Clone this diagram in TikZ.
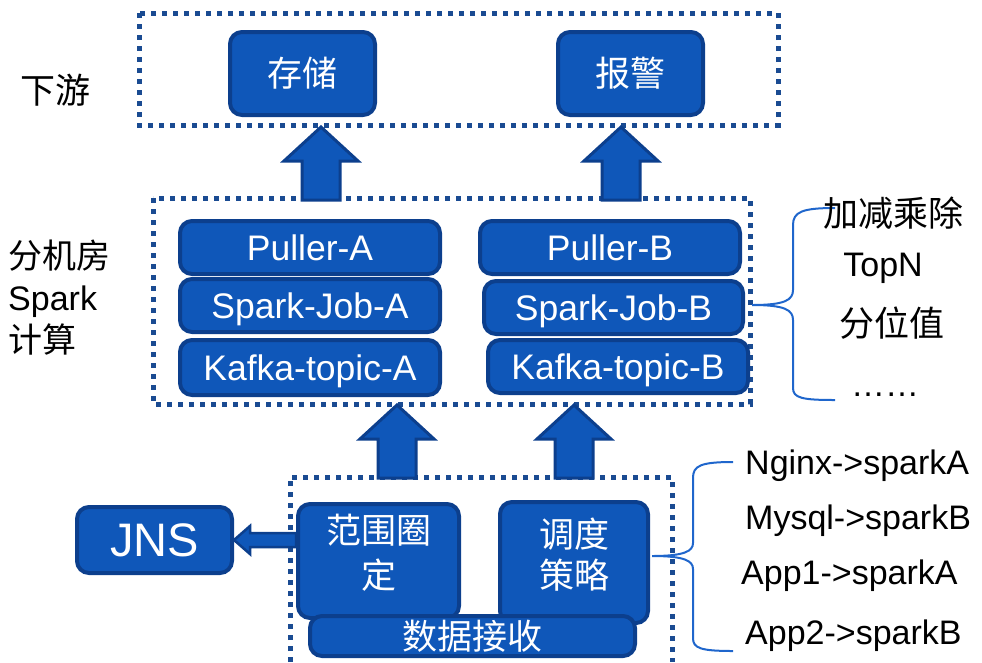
\documentclass[tikz,border=0pt]{standalone}
\usepackage{fontspec}
\setmainfont{Liberation Sans}
\newfontfamily\cjk{Noto Sans CJK SC}
\usetikzlibrary{calc}
\definecolor{boxfill}{HTML}{0F57B9}
\definecolor{boxline}{HTML}{0C3F8D}
\definecolor{dotline}{HTML}{1A4B92}
\definecolor{bracecol}{HTML}{1F66CC}
\newcommand\upblock[2]{%
  \filldraw[blockarrow] let \p1=(#1),\p2=(#2) in
  (\x1-19pt,\y1) -- (\x1-19pt,\y2-34pt) -- (\x1-37pt,\y2-34pt) -- (\x1,\y2) --
  (\x1+37pt,\y2-34pt) -- (\x1+19pt,\y2-34pt) -- (\x1+19pt,\y1) -- cycle;}
\begin{document}
\begin{tikzpicture}[x=1pt,y=-1pt,
  bluebox/.style={draw=boxline,fill=boxfill,line width=4pt,rounded corners=12pt,
    text=white,inner sep=0pt,font=\fontsize{35.5}{40}\selectfont},
  latin/.style={text height=25.4pt,text depth=0pt},
  cjkbox/.style={font=\fontsize{35}{44}\selectfont\cjk,align=center},
  cjktext/.style={text=white,inner sep=0pt,align=center},
  frame/.style={draw=dotline,line width=5pt,dash pattern=on 5pt off 6pt},
  blockarrow/.style={draw=boxline,fill=boxfill,line width=3pt,line join=miter},
  bracel/.style={draw=bracecol,line width=2pt},
  lbl/.style={text=black,inner sep=0pt,font=\fontsize{34}{42}\selectfont},
  cjklbl/.style={lbl,font=\fontsize{35}{42}\selectfont\cjk}]
\useasboundingbox (0,0) rectangle (982,662);

% frames
\draw[frame] (139,13) rectangle (778,125);
\draw[frame] (153,198) rectangle (750,404);
\draw[frame] (290,662) -- (290,477) -- (672,477) -- (672,662);

% top boxes
\node[bluebox,cjkbox,minimum width=145pt,minimum height=83pt] (store) at (302.5,73.5) {存储};
\node[bluebox,cjkbox,minimum width=145pt,minimum height=83pt] (alarm) at (630.5,73.5) {报警};

% spark stacks
\node[bluebox,latin,minimum width=260pt,minimum height=53pt] (pullA) at (310,247.5) {Puller-A};
\node[bluebox,latin,minimum width=260pt,minimum height=53pt] (jobA) at (310,305.5) {Spark-Job-A};
\node[bluebox,latin,minimum width=260pt,minimum height=55pt] (kafA) at (310,367.5) {Kafka-topic-A};
\node[bluebox,latin,minimum width=260pt,minimum height=53pt] (pullB) at (610,247.5) {Puller-B};
\node[bluebox,latin,minimum width=259pt,minimum height=53pt] (jobB) at (613.5,307.5) {Spark-Job-B};
\node[bluebox,latin,minimum width=260pt,minimum height=53pt] (kafB) at (618,366.5) {Kafka-topic-B};

% bottom boxes
\node[bluebox,minimum width=161pt,minimum height=114pt] (rng) at (378.5,561) {};
\node[cjktext,font=\fontsize{35}{45}\selectfont\cjk] (rngtxt) at (378.5,553) {范围圈\\定};
\node[bluebox,minimum width=148pt,minimum height=121pt] (sched) at (574,562.5) {};
\node[cjktext,font=\fontsize{35}{41}\selectfont\cjk] (schedtxt) at (574,555) {调度\\策略};
\node[bluebox,cjkbox,minimum width=325pt,minimum height=40pt] (recv) at (472.5,636) {数据接收};
\node[bluebox,font=\fontsize{47}{50}\selectfont,text height=33.6pt,text depth=0pt,minimum width=155pt,minimum height=66pt] (jns) at (154.5,540) {JNS};

% block arrows
\coordinate (a1s) at (321,200); \coordinate (a1t) at (321,127);
\coordinate (a2s) at (621,200); \coordinate (a2t) at (621,127);
\coordinate (a3s) at (397,478); \coordinate (a3t) at (397,405);
\coordinate (a4s) at (574,478); \coordinate (a4t) at (574,405);
\upblock{a1s}{a1t}
\upblock{a2s}{a2t}
\upblock{a3s}{a3t}
\upblock{a4s}{a4t}
\filldraw[blockarrow,line width=2.5pt] let \p1=(rng.west |- jns.east),\p2=(jns.east) in
  (\x1,\y1+7pt) -- (\x2+16pt,\y1+7pt) -- (\x2+16pt,\y1+14pt) -- (\x2,\y2) --
  (\x2+16pt,\y1-14pt) -- (\x2+16pt,\y1-7pt) -- (\x1,\y1-7pt) -- cycle;

% left labels
\node[cjklbl] (down) at (55,90) {下游};
\node[lbl,anchor=west,align=left] (sparkcalc) at (8,298) {{\cjk 分机房}\\Spark\\{\cjk 计算}};

% brace 1
\coordinate (b1tip) at (752,305);
\draw[bracel] (835,208) .. controls (802,208) and (793,212) .. (793,225) -- (793,290)
  .. controls (793,300) and (785,305) .. (b1tip)
  .. controls (785,305) and (793,310) .. (793,320) -- (793,388)
  .. controls (793,398) and (802,400) .. (835,400);
\node[cjklbl] (ops1) at (893,213) {加减乘除};
\node[lbl] (ops2) at (883,268) {TopN};
\node[cjklbl] (ops3) at (892,323) {分位值};
\node[lbl] (ops4) at (885,395) {……};

% brace 2
\coordinate (b2tip) at (652,556);
\draw[bracel] (733,462) .. controls (700,462) and (693,466) .. (693,478) -- (693,543)
  .. controls (693,551) and (685,556) .. (b2tip)
  .. controls (685,556) and (693,561) .. (693,569) -- (693,638)
  .. controls (693,648) and (700,651) .. (733,651);
\node[lbl,anchor=west] (r1) at (745,466) {Nginx->sparkA};
\node[lbl,anchor=west] (r2) at (745,521) {Mysql->sparkB};
\node[lbl,anchor=west] (r3) at (741,576) {App1->sparkA};
\node[lbl,anchor=west] (r4) at (745,636) {App2->sparkB};
\end{tikzpicture}
\end{document}
